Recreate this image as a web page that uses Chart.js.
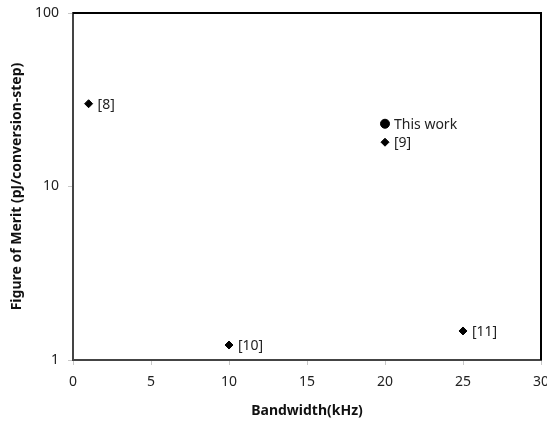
<!DOCTYPE html>
<html>
<head>
<meta charset="utf-8">
<script src="https://cdn.jsdelivr.net/npm/chart.js@4"></script>
<style>
  html, body { margin: 0; padding: 0; background: #fff; }
  #wrap { width: 547px; height: 423px; }
</style>
</head>
<body>
<div id="wrap"><canvas id="fomChart" width="547" height="423"></canvas></div>
<script>
// prior work
const refLabels = ['[8]', '[9]', '[10]', '[11]'];
const refBandwidth = [1, 20, 10, 25];
const refFoM = [30, 18, 1.22, 1.47];

// this work
const workLabels = ['This work'];
const workBandwidth = [20];
const workFoM = [23];

const xTicks = [0, 5, 10, 15, 20, 25, 30];
const yTicks = [1, 10, 100];

const font = "'Noto Sans', 'DejaVu Sans', sans-serif";

// labels next to each point + top/right frame
const pointLabels = {
    id: 'pointLabels',
    afterDatasetsDraw(chart) {
        const ctx = chart.ctx;
        ctx.save();
        ctx.font = '14px ' + font;
        ctx.fillStyle = '#222';
        ctx.textBaseline = 'middle';
        chart.data.datasets.forEach((ds, i) => {
            chart.getDatasetMeta(i).data.forEach((pt, j) => {
                ctx.fillText(ds.names[j], pt.x + 9, pt.y + 1);
            });
        });
        const a = chart.chartArea;
        ctx.strokeStyle = '#000';
        ctx.lineWidth = 2;
        ctx.beginPath();
        ctx.moveTo(a.left, a.top);
        ctx.lineTo(a.right, a.top);
        ctx.lineTo(a.right, a.bottom);
        ctx.stroke();
        ctx.restore();
    }
};

new Chart(document.getElementById("fomChart"), {
    type: 'scatter',
    data: {
        datasets: [{
            names: refLabels,
            data: refBandwidth.map((x, i) => ({ x: x, y: refFoM[i] })),
            pointStyle: 'rectRot',
            radius: 4,
            backgroundColor: '#000',
            borderColor: '#000'
        }, {
            names: workLabels,
            data: workBandwidth.map((x, i) => ({ x: x, y: workFoM[i] })),
            pointStyle: 'circle',
            radius: 4.5,
            backgroundColor: '#000',
            borderColor: '#000'
        }]
    },
    options: {
        responsive: false,
        animation: false,
        layout: { padding: { left: 0, top: 13, right: 6, bottom: 0 } },
        plugins: { legend: { display: false }, tooltip: { enabled: false } },
        scales: {
            x: {
                type: 'linear',
                min: 0, max: 30,
                afterBuildTicks: s => { s.ticks = xTicks.map(v => ({ value: v })); },
                afterFit: s => { s.height = 63; s.paddingLeft = 0; s.paddingRight = 0; },
                grid: { drawOnChartArea: false, tickLength: 5, color: '#c8c8c8' },
                border: { color: '#444', width: 2 },
                ticks: { color: '#222', padding: 9, font: { size: 14, family: font } },
                title: {
                    display: true, text: 'Bandwidth(kHz)', color: '#111',
                    font: { size: 14, weight: 'bold', family: font }, padding: { top: 2 }
                }
            },
            y: {
                type: 'logarithmic',
                min: 1, max: 100,
                afterBuildTicks: s => { s.ticks = yTicks.map(v => ({ value: v })); },
                afterFit: s => { s.width = 73; s.paddingTop = 0; s.paddingBottom = 0; },
                grid: { drawOnChartArea: false, tickLength: 5, color: '#c8c8c8' },
                border: { color: '#444', width: 2 },
                ticks: {
                    color: '#222', padding: 9, font: { size: 14, family: font },
                    callback: v => String(v)
                },
                title: {
                    display: true, text: 'Figure of Merit (pJ/conversion-step)', color: '#111',
                    font: { size: 14, weight: 'bold', family: font }, padding: { top: 9, bottom: 0 }
                }
            }
        }
    },
    plugins: [pointLabels]
});
</script>
</body>
</html>
